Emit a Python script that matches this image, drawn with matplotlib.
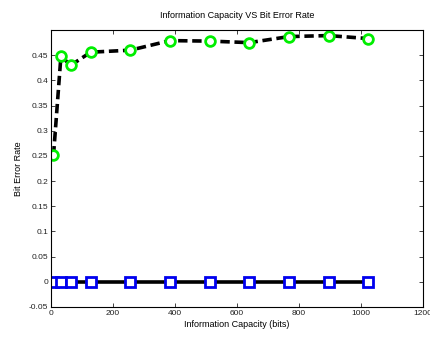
import matplotlib

matplotlib.use("Agg")
import matplotlib.pyplot as plt  # noqa: E402

plt.rcParams["font.family"] = ["Liberation Sans", "DejaVu Sans"]

# information capacity (bits) and the two bit error rate series
capacity = [8, 32, 64, 128, 256, 384, 512, 640, 768, 896, 1024]
ber_attacked = [0.251, 0.448, 0.430, 0.456, 0.460, 0.479, 0.478, 0.475, 0.487, 0.489, 0.483]
ber_clean = [0, 0, 0, 0, 0, 0, 0, 0, 0, 0, 0]

y_ticks = [-0.05, 0, 0.05, 0.1, 0.15, 0.2, 0.25, 0.3, 0.35, 0.4, 0.45]
y_labels = ["-0.05", "0", "0.05", "0.1", "0.15", "0.2", "0.25", "0.3", "0.35", "0.4", "0.45"]
x_ticks = [0, 200, 400, 600, 800, 1000, 1200]

fig = plt.figure(figsize=(4.3, 3.39), dpi=100)
ax = fig.add_axes([0.1186, 0.0944, 0.865, 0.817])

ax.plot(capacity, ber_attacked, ls="--", color="black", lw=2.6, dashes=(2.6, 1.3),
        marker="o", ms=7, mfc="white", mec="#00ee00", mew=2)
ax.plot(capacity, ber_clean, ls="-", color="black", lw=2.6,
        marker="s", ms=6.5, mfc="white", mec="#0000ee", mew=2)

ax.set_xlim(0, 1200)
ax.set_ylim(-0.05, 0.5)
ax.set_xticks(x_ticks)
ax.set_yticks(y_ticks)
ax.set_yticklabels(y_labels)
ax.tick_params(direction="in", length=3, width=0.6, labelsize=6, colors="#222222",
               top=True, right=True, pad=2)
for s in ax.spines.values():
    s.set_linewidth(0.8)

ax.set_title("Information Capacity VS Bit Error Rate", fontsize=6.5, pad=9)
ax.set_xlabel("Information Capacity (bits)", fontsize=6.5, labelpad=2)
ax.set_ylabel("Bit Error Rate", fontsize=6.5, labelpad=4)

fig.savefig("out.png", dpi=100)
plt.close(fig)
